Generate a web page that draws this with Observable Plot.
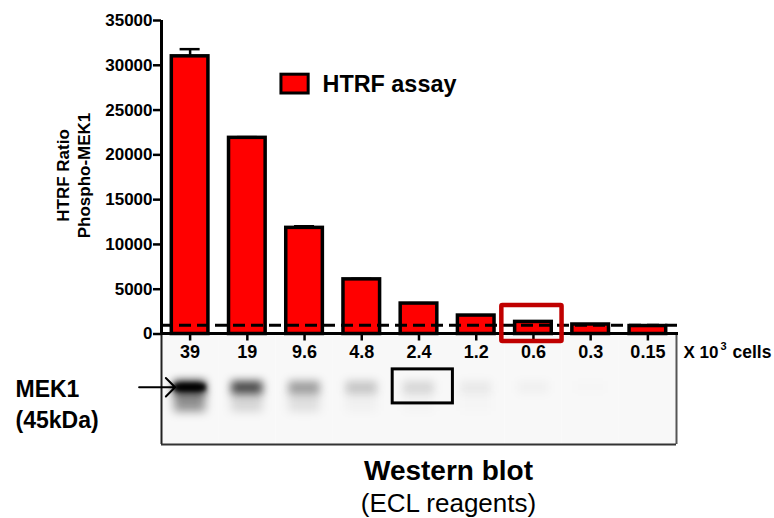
<!DOCTYPE html>
<html><head><meta charset="utf-8">
<style>html,body{margin:0;padding:0;background:#fff}svg{display:block}</style>
<script src="https://cdn.jsdelivr.net/npm/d3@7"></script>
<script src="https://cdn.jsdelivr.net/npm/@observablehq/plot@0.6"></script>
</head><body><div id="chart"></div>
<script>
const lanes = ["39","19","9.6","4.8","2.4","1.2","0.6","0.3","0.15"];
const htrf = [31000,21900,11850,6100,3400,2060,1350,1060,890];
const errs = [800,80,180,60,40,30,30,20,20];
const threshold = 980;
const yTicks = [0,5000,10000,15000,20000,25000,30000,35000];
const bandStrength = [1,0.72,0.36,0.2,0.13,0.06,0.03,0.008,0];
const coreStrength = [1,0,0,0,0,0,0,0,0];
const smearStrength = [0.42,0.14,0.1,0.03,0.02,0.01,0,0,0];
const blotTop = -150, blotBottom = -12340;
const F = "'Liberation Sans', Arial, sans-serif";
const step = 515/9;
const idx = lanes.map((_,i)=>i);
const T = (text,x,y,size,opts={}) => Plot.text([text],{text:d=>d,frameAnchor:"top-left",dx:x-161,dy:y-20,fontSize:size,fontWeight:"bold",textAnchor:"start",fill:"#000",lineAnchor:"middle",...opts});
const chart = Plot.plot({
  width:774,height:518,marginLeft:161,marginRight:93,marginTop:20,marginBottom:184.5,
  style:{fontFamily:F,background:"#fff",color:"#000",overflow:"visible"},
  x:{type:"band",domain:lanes,range:[161,676],padding:0,round:false,label:null},
  y:{domain:[0,35000],range:[333.5,20],label:null},
  marks:[
    Plot.barY(lanes,{x:d=>d,y1:blotBottom,y2:blotTop,fill:"#f8f8f8"}),
    Plot.barY(idx,{x:i=>lanes[i],y1:-8700,y2:-6400,fill:"#000",fillOpacity:i=>smearStrength[i],insetLeft:13,insetRight:13,imageFilter:"blur(5px)"}),
    Plot.barY(idx,{x:i=>lanes[i],y1:-6700,y2:-5300,fill:"#000",fillOpacity:i=>bandStrength[i],insetLeft:13,insetRight:13,imageFilter:"blur(4px)"}),
    Plot.barY(idx,{x:i=>lanes[i],y1:-6350,y2:-5650,fill:"#000",fillOpacity:i=>coreStrength[i],insetLeft:13,insetRight:13,imageFilter:"blur(2px)"}),
    Plot.ruleX([lanes[0]],{x:d=>d,y1:blotBottom,y2:0,dx:-step/2,strokeWidth:2,stroke:"#222"}),
    Plot.ruleX([lanes[8]],{x:d=>d,y1:blotBottom,y2:0,dx:step/2,strokeWidth:2,stroke:"#555"}),
    Plot.ruleY([blotBottom],{strokeWidth:2,stroke:"#333",insetRight:5}),
    Plot.ruleX(idx,{x:i=>lanes[i],y1:i=>htrf[i],y2:i=>htrf[i]+errs[i],strokeWidth:2.5,stroke:"#000"}),
    Plot.tickY(idx,{x:i=>lanes[i],y:i=>htrf[i]+errs[i],strokeWidth:2.5,stroke:"#000",insetLeft:18.6,insetRight:18.6}),
    Plot.barY(idx,{x:i=>lanes[i],y1:0,y2:i=>htrf[i],fill:"#f00",stroke:"#000",strokeWidth:3.5,insetLeft:10.3,insetRight:10.3}),
    Plot.ruleX([lanes[0]],{x:d=>d,y1:0,y2:35000,dx:-step/2,strokeWidth:3,stroke:"#000"}),
    Plot.ruleY([0],{strokeWidth:3,stroke:"#000",insetRight:3,dy:-0.5}),
    Plot.ruleY([threshold],{stroke:"#000",strokeWidth:3,strokeDasharray:"12 6"}),
    Plot.axisY({ticks:yTicks,tickFormat:d=>String(d),tickSize:8,tickPadding:1,strokeWidth:2.5,fontSize:17,fontWeight:"bold",anchor:"left",label:null,fill:"#000"}),
    Plot.axisX({tickSize:7,tickPadding:4,strokeWidth:2.5,fontSize:18,fontWeight:"bold",anchor:"bottom",label:null,fill:"#000"}),
    Plot.barY([lanes[6]],{x:d=>d,y1:-837,y2:3180,fill:"none",stroke:"#c00000",strokeWidth:4.5,insetLeft:-1.5,insetRight:-1.5,dx:-1.5,rx:1}),
    Plot.barY([lanes[4]],{x:d=>d,y1:-7750,y2:-3950,fill:"none",stroke:"#000",strokeWidth:3,insetLeft:-1.5,insetRight:-1.5,dx:3.8}),
    Plot.barY([lanes[2]],{x:d=>d,y1:26850,y2:28950,fill:"#f00",stroke:"#000",strokeWidth:3,insetLeft:15,insetRight:15,dx:-9.5}),
    Plot.vector([lanes[0]],{x:d=>d,y:-5950,rotate:90,length:36,anchor:"end",r:4.5,dx:-15,stroke:"#000",strokeWidth:2}),
    T("HTRF assay",322,84,23.4),
    T("X 10",683,352,17),
    T("3",720,346,11),
    T("cells",732,352,17.5),
    T("MEK1",15,389,23),
    T("(45kDa)",15,420,23),
    T("Western blot",448,471,28,{textAnchor:"middle"}),
    T("(ECL reagents)",448,503,26,{textAnchor:"middle",fontWeight:"normal"}),
    T("HTRF Ratio",63,175,17,{textAnchor:"middle",rotate:-90}),
    T("Phospho-MEK1",84,175,17,{textAnchor:"middle",rotate:-90})
  ]
});
document.getElementById("chart").append(chart);
</script></body></html>
